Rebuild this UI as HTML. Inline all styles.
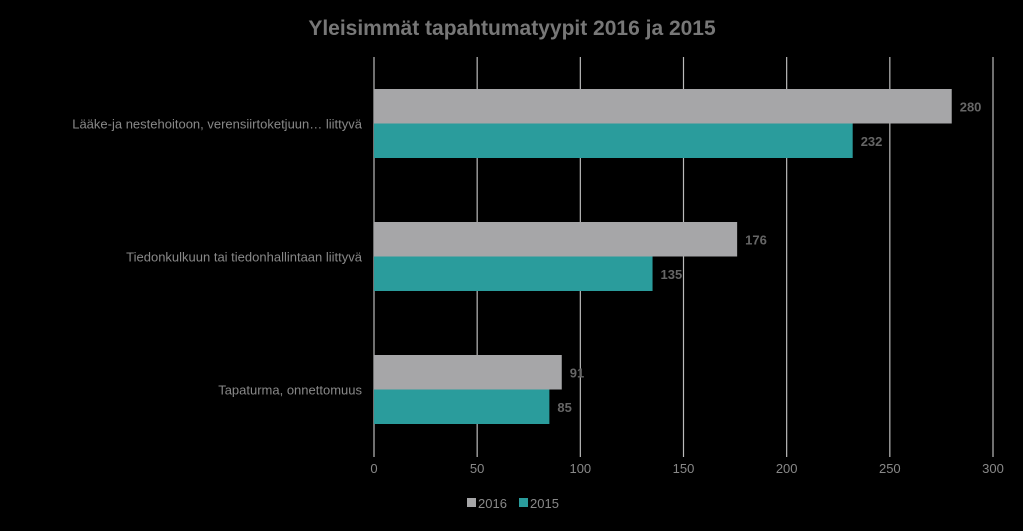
<!DOCTYPE html>
<html><head><meta charset="utf-8"><style>
body{margin:0;background:#000;width:1023px;height:526px;overflow:hidden;font-family:"Liberation Sans",sans-serif}
</style></head><body>
<svg width="1023" height="526">
<text x="512" y="35" text-anchor="middle" font-size="21" font-weight="bold" fill="#777">Yleisimmät tapahtumatyypit 2016 ja 2015</text>
<g id="grid"></g><g id="bars"></g><g id="labels"></g>
<g>
<rect x="467" y="498" width="9" height="9" fill="#a6a6a8"/>
<text x="478" y="508" font-size="13" fill="#888">2016</text>
<rect x="519" y="498" width="9" height="9" fill="#2a9c9c"/>
<text x="530" y="508" font-size="13" fill="#888">2015</text>
</g>
</svg>
<script>
const categories=["Lääke-ja nestehoitoon, verensiirtoketjuun… liittyvä","Tiedonkulkuun tai tiedonhallintaan liittyvä","Tapaturma, onnettomuus"];
const values2016=[280,176,91];
const values2015=[232,135,85];
const ticks=[0,50,100,150,200,250,300];
const NS="http://www.w3.org/2000/svg";
const x0=374,x1=993,maxV=300;
const xs=v=>x0+(x1-x0)*v/maxV;
const catTop=[89,222,355],barH=34.5;
function mk(tag,attrs,parent,text){const e=document.createElementNS(NS,tag);for(const k in attrs)e.setAttribute(k,attrs[k]);if(text!=null)e.textContent=text;document.getElementById(parent).appendChild(e);return e;}
ticks.forEach(t=>{
 const l=mk('line',{x1:xs(t),x2:xs(t),y1:57,y2:457,stroke:'#bbb','stroke-width':1.2},'grid');
 
 
 const tx=mk('text',{x:xs(t),y:473,'text-anchor':'middle','font-size':13,fill:'#888'},'grid',t);
 
 
});
categories.forEach((c,i)=>{
 const top=catTop[i];
 const cl=mk('text',{x:362,y:top+barH+5,'text-anchor':'end','font-size':13,fill:'#888'},'labels',c);
 
 
 [[values2016[i],'#a6a6a8','2016',top],[values2015[i],'#2a9c9c','2015',top+barH]].forEach(([v,col,yr,y])=>{
  const r=mk('rect',{x:x0,y:y,width:xs(v)-x0,height:barH,fill:col},'bars');
  
  
  const t=mk('text',{x:xs(v)+8,y:y+barH/2+5,'font-size':13,'font-weight':'bold',fill:'#666'},'labels',v);
  
  
 });
});
</script>
</body></html>
